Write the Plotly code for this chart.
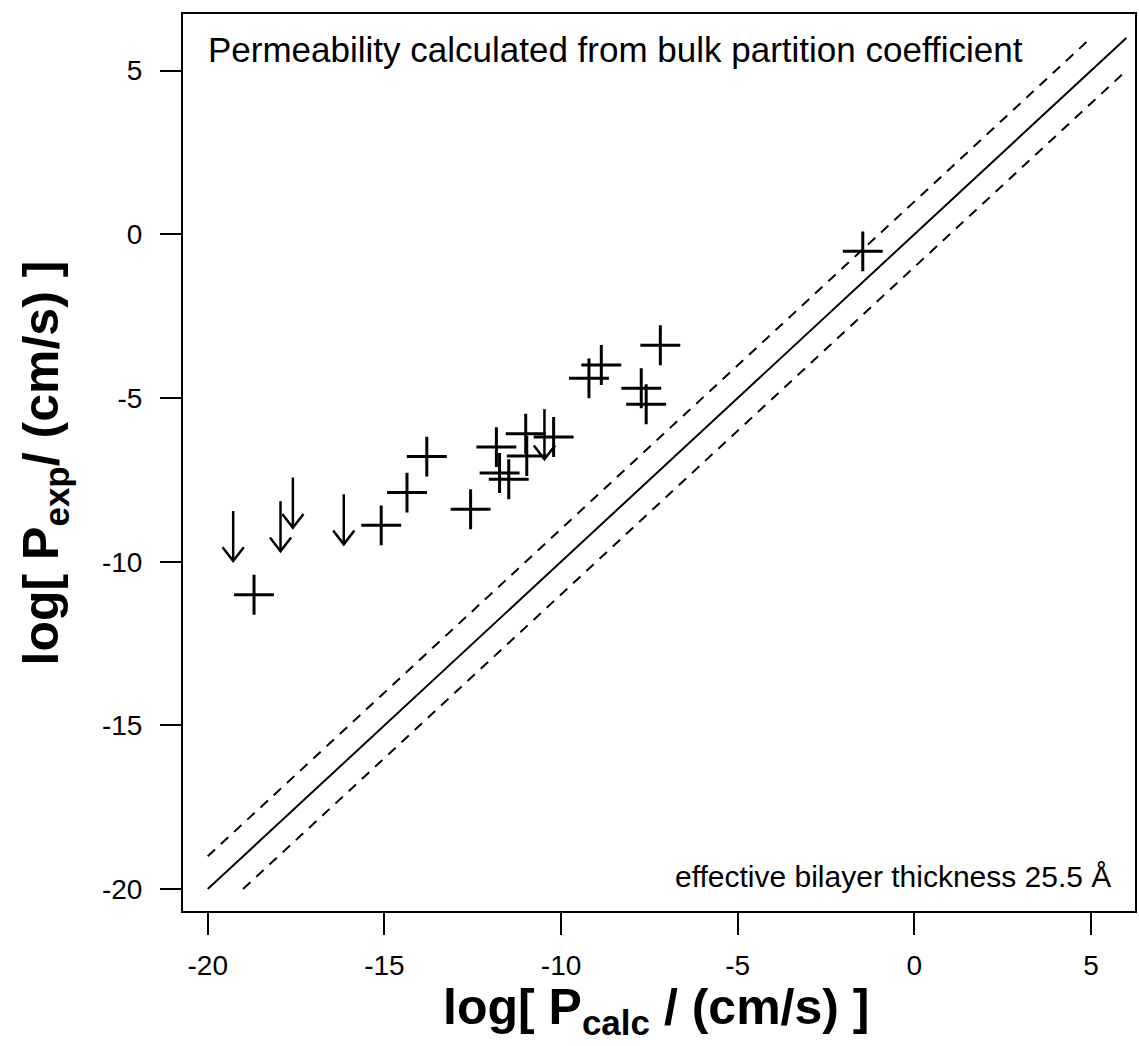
import plotly.graph_objects as go

# --- data ---
cross_x = [-18.69, -15.09, -14.36, -13.80, -12.56, -11.83, -11.74, -11.48,
           -11.00, -10.97, -10.21, -9.21, -8.86, -7.73, -7.59, -7.19, -1.46]
cross_y = [-11.01, -8.89, -7.89, -6.79, -8.40, -6.50, -7.29, -7.48,
           -6.09, -6.77, -6.19, -4.40, -3.99, -4.70, -5.19, -3.39, -0.52]

# upper-limit points (drawn as downward arrows starting at the value)
limit_x = [-19.28, -17.94, -17.59, -16.15, -10.47]
limit_y = [-8.45, -8.15, -7.43, -7.94, -5.34]

ident_x = [-20, 6]
ident_y = [-20, 6]
upper_x = [-20, 5]
upper_y = [-19, 6]
lower_x = [-19, 6]
lower_y = [-20, 5]

x_ticks = [-20, -15, -10, -5, 0, 5]
y_ticks = [-20, -15, -10, -5, 0, 5]

ARROW_LEN = 1.53   # y units
HEAD_DX = 0.30     # x units
HEAD_DY = 0.42     # y units

FONT = "Liberation Sans, Arial, sans-serif"

fig = go.Figure()

fig.add_trace(go.Scatter(x=ident_x, y=ident_y, mode="lines",
                         line=dict(color="black", width=2),
                         showlegend=False, hoverinfo="skip"))
fig.add_trace(go.Scatter(x=upper_x, y=upper_y, mode="lines",
                         line=dict(color="black", width=2, dash="10px,8px"),
                         showlegend=False, hoverinfo="skip"))
fig.add_trace(go.Scatter(x=lower_x, y=lower_y, mode="lines",
                         line=dict(color="black", width=2, dash="10px,8px"),
                         showlegend=False, hoverinfo="skip"))

# arrows built from the limit data
ax, ay = [], []
for x, y in zip(limit_x, limit_y):
    tip = y - ARROW_LEN
    ax += [x, x, None, x - HEAD_DX, x, x + HEAD_DX, None]
    ay += [y, tip, None, tip + HEAD_DY, tip, tip + HEAD_DY, None]
fig.add_trace(go.Scatter(x=ax, y=ay, mode="lines",
                         line=dict(color="black", width=2.5),
                         showlegend=False, hoverinfo="skip"))

fig.add_trace(go.Scatter(x=cross_x, y=cross_y, mode="markers",
                         marker=dict(symbol="cross-thin", size=28.5,
                                     line=dict(color="black", width=3)),
                         showlegend=False))

fig.update_layout(
    width=1139, height=1046,
    margin=dict(l=183, r=2, t=14, b=135),
    paper_bgcolor="white", plot_bgcolor="white",
    font=dict(family=FONT, color="black"),
)
fig.update_xaxes(range=[-20.70, 6.245], tickvals=x_ticks,
                 ticktext=[str(v) for v in x_ticks],
                 showgrid=False, zeroline=False,
                 showline=True, linecolor="black", linewidth=2, mirror=True,
                 ticks="outside", ticklen=22, tickwidth=2, tickcolor="black",
                 ticklabelstandoff=6,
                 tickfont=dict(size=28, family=FONT))
fig.update_yaxes(range=[-20.67, 6.73], tickvals=y_ticks,
                 ticktext=[str(v) for v in y_ticks],
                 showgrid=False, zeroline=False,
                 showline=True, linecolor="black", linewidth=2, mirror=True,
                 ticks="outside", ticklen=21, tickwidth=2, tickcolor="black",
                 ticklabelstandoff=12,
                 tickfont=dict(size=28, family=FONT))

fig.add_annotation(xref="paper", yref="paper", x=0.024, y=0.96,
                   xanchor="left", yanchor="middle", showarrow=False,
                   text="Permeability calculated from bulk partition coefficient",
                   font=dict(size=35, family=FONT))
fig.add_annotation(xref="paper", yref="paper", x=0.977, y=0.039,
                   xanchor="right", yanchor="middle", showarrow=False,
                   text="effective bilayer thickness 25.5 Å",
                   font=dict(size=30, family=FONT))
# axis titles
fig.add_annotation(xref="paper", yref="paper", x=0.497, y=-0.111,
                   xanchor="center", yanchor="middle", showarrow=False,
                   text="<b>log[ P<sub>calc</sub> / (cm/s) ]</b>",
                   font=dict(size=50, family=FONT))
fig.add_annotation(xref="paper", yref="paper", x=-0.145, y=0.50,
                   xanchor="center", yanchor="middle", showarrow=False,
                   textangle=-90,
                   text="<b>log[ P<sub>exp</sub>/ (cm/s) ]</b>",
                   font=dict(size=50, family=FONT))

fig.write_html("out.html", config={"displayModeBar": False},
               post_script="document.body.style.margin='0';document.body.style.overflow='hidden';")
